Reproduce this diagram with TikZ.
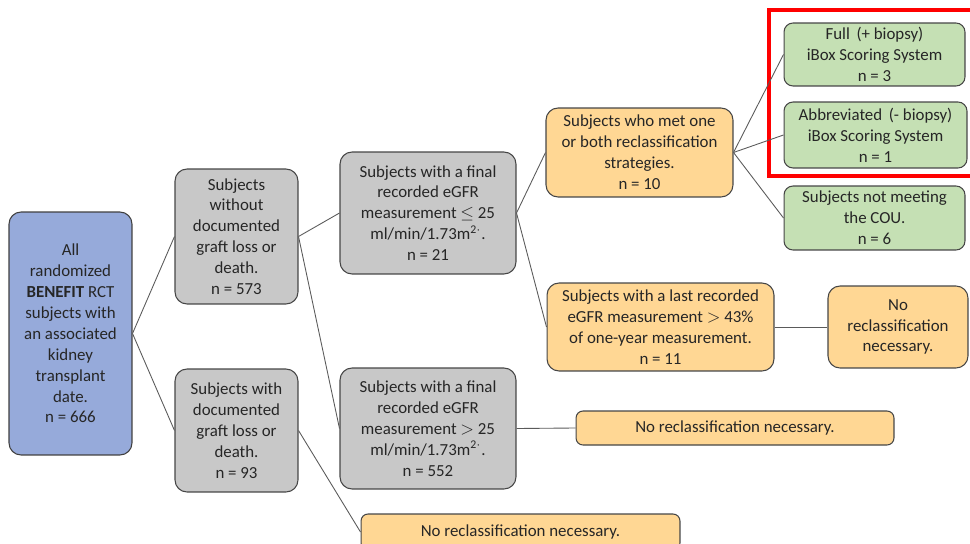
\documentclass[tikz,border=0pt]{standalone}
\usepackage{fontspec}
\setmainfont{Carlito}
\usepackage{amsmath}
\usepackage{amssymb}
\usepackage{xcolor}
\usepackage{tikz}
\usetikzlibrary{shapes,calc}
\definecolor{boxblue}{RGB}{150,170,218}
\definecolor{boxgray}{RGB}{200,200,200}
\definecolor{boxorange}{RGB}{255,215,148}
\definecolor{boxgreen}{RGB}{197,224,180}
\definecolor{edgegray}{RGB}{70,70,70}
\definecolor{lineg}{RGB}{90,90,90}

\begin{document}
\begin{tikzpicture}[x=0.02cm,y=-0.02cm,
  box/.style={draw=edgegray,line width=0.6pt,rounded corners=0.24cm,align=center,
    inner sep=1pt,font=\fontsize{9.6}{11.9}\selectfont,text=black!85},
  bluebox/.style={box,fill=boxblue,draw=black!75},
  graybox/.style={box,fill=boxgray},
  orangebox/.style={box,fill=boxorange},
  greenbox/.style={box,fill=boxgreen,rounded corners=0.18cm},
  link/.style={draw=lineg,line width=0.5pt}]
\useasboundingbox (0,0) rectangle (970,544);

% first column
\node[bluebox,minimum width=2.46cm,minimum height=4.86cm] (all) at (70.5,333.5)
  {All\\randomized\\\textbf{BENEFIT} RCT\\subjects with\\an associated\\kidney\\transplant\\date.\\n = 666};

% second column
\node[graybox,minimum width=2.46cm,minimum height=2.70cm] (alive) at (236.5,236.5)
  {Subjects\\without\\documented\\graft loss or\\death.\\n = 573};
\node[graybox,minimum width=2.46cm,minimum height=2.46cm] (lost) at (236.5,430.5)
  {Subjects with\\documented\\graft loss or\\death.\\n = 93};

% third column
\node[graybox,minimum width=3.52cm,minimum height=2.44cm] (low) at (428,213)
  {Subjects with a final\\recorded eGFR\\measurement $\leq$ 25\\ml/min/1.73m\textsuperscript{2$\cdot$}.\\n = 21};
\node[graybox,minimum width=3.52cm,minimum height=2.42cm] (high) at (428,428.5)
  {Subjects with a final\\recorded eGFR\\measurement $>$ 25\\ml/min/1.73m\textsuperscript{2$\cdot$}.\\n = 552};
\node[orangebox,minimum width=6.38cm,minimum height=0.72cm,rounded corners=0.14cm] (noreclB) at (520.5,532)
  {No reclassification necessary.};

% fourth column
\node[orangebox,minimum width=3.74cm,minimum height=1.78cm] (met) at (639.5,152.5)
  {Subjects who met one\\or both reclassification\\strategies.\\n = 10};
\node[orangebox,minimum width=4.54cm,minimum height=1.76cm] (last) at (660.5,327)
  {Subjects with a last recorded\\eGFR measurement $>$ 43\%\\of one-year measurement.\\n = 11};
\node[orangebox,minimum width=6.36cm,minimum height=0.68cm,rounded corners=0.14cm] (noreclM) at (735,428)
  {No reclassification necessary.};

% last column
\node[greenbox,minimum width=3.62cm,minimum height=1.26cm] (full) at (874.5,54.5)
  {Full\, (+ biopsy)\\iBox Scoring System\\n = 3};
\node[greenbox,minimum width=3.66cm,minimum height=1.32cm] (abbr) at (875.5,135)
  {Abbreviated\, (- biopsy)\\iBox Scoring System\\n = 1};
\node[greenbox,minimum width=3.62cm,minimum height=1.28cm] (cou) at (874.5,218)
  {Subjects not meeting\\the COU.\\n = 6};
\node[orangebox,minimum width=2.80cm,minimum height=1.64cm] (noreclR) at (898,327)
  {No\\reclassification\\necessary.};

% highlight
\draw[red,line width=1.9pt] (769,10) rectangle (975,176);

% connectors
\draw[link] (all.east) -- (alive.west);
\draw[link] (all.east) -- (lost.west);
\draw[link] (alive.east) -- (low.west);
\draw[link] (alive.east) -- (high.west);
\draw[link] (lost.east) -- (noreclB.west);
\draw[link] (low.east) -- (met.west);
\draw[link] (low.east) -- (last.west);
\draw[link] (high.east) -- (noreclM.west);
\draw[link] (met.east) -- (full.west);
\draw[link] (met.east) -- (abbr.west);
\draw[link] (met.east) -- (cou.west);
\draw[link] (last.east) -- (noreclR.west);
\end{tikzpicture}
\end{document}
